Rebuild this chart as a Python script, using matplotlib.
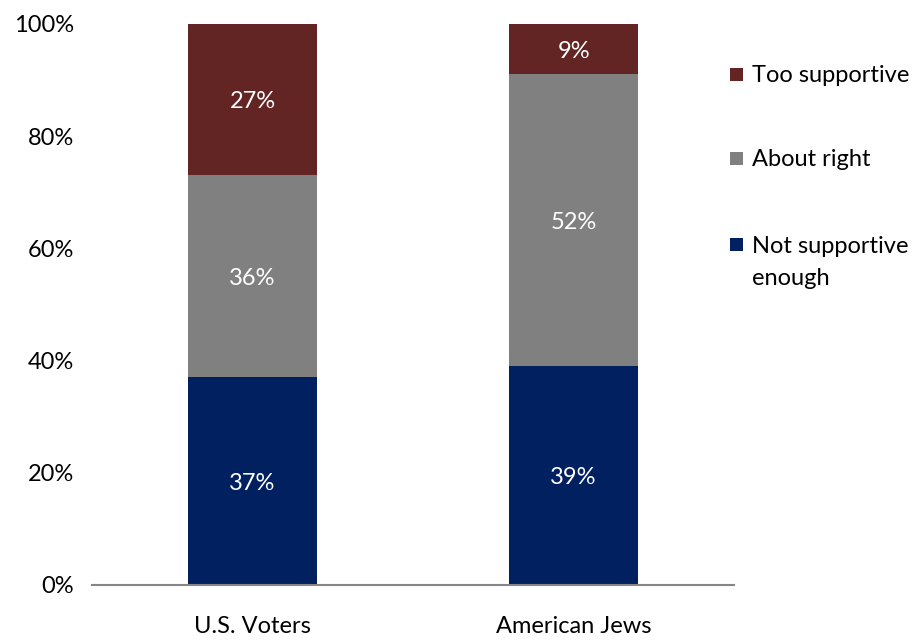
import matplotlib
matplotlib.use("Agg")
import matplotlib.pyplot as plt
from matplotlib.patches import Rectangle

plt.rcParams['font.family'] = ['Lato', 'DejaVu Sans']

groups = ["U.S. Voters", "American Jews"]
series = ["Not supportive\nenough", "About right", "Too supportive"]
not_enough = [37, 39]
about_right = [36, 52]
too_supportive = [27, 9]
colors = ["#002060", "#808080", "#632523"]
y_ticks = [0, 20, 40, 60, 80, 100]
y_tick_labels = ["0%", "20%", "40%", "60%", "80%", "100%"]

values = [not_enough, about_right, too_supportive]
FS = 17

fig = plt.figure(figsize=(9.18, 6.41), dpi=100)
ax = fig.add_axes([0.1002, 0.0874, 0.6996, 0.8752])

x = list(range(len(groups)))
bottom = [0, 0]
for vals, col in zip(values, colors):
    ax.bar(x, vals, width=0.4, bottom=bottom, color=col, zorder=2)
    for xi, b, v in zip(x, bottom, vals):
        ax.text(xi, b + v / 2, f"{v}%", ha="center", va="center_baseline",
                color="white", fontsize=FS)
    bottom = [b + v for b, v in zip(bottom, vals)]

ax.set_xlim(-0.5, 1.5)
ax.set_ylim(0, 100)
ax.set_yticks(y_ticks)
ax.set_yticklabels(y_tick_labels, fontsize=FS)
ax.set_xticks(x)
ax.set_xticklabels(groups, fontsize=FS)
ax.tick_params(axis="both", length=0)
ax.tick_params(axis="y", pad=13)
ax.tick_params(axis="x", pad=22)
for side in ["top", "right", "left"]:
    ax.spines[side].set_visible(False)
ax.spines["bottom"].set_color("#868686")
ax.spines["bottom"].set_linewidth(1.5)

# Legend drawn as squares and labels beside the plot, top entry first
W, H = 918, 641
legend_rows = [(series[2], colors[2], 74),
               (series[1], colors[1], 158.5),
               (series[0], colors[0], 245)]
for label, col, yc in legend_rows:
    fig.patches.append(Rectangle((730 / W, 1 - (yc + 6.5) / H), 13 / W, 13 / H,
                                 transform=fig.transFigure, facecolor=col,
                                 edgecolor="none"))
    for i, line in enumerate(label.split("\n")):
        fig.text(752 / W, 1 - (yc + 8 + 32 * i) / H, line, ha="left",
                 va="baseline", fontsize=FS, color="black")

fig.savefig("out.png", dpi=100)
